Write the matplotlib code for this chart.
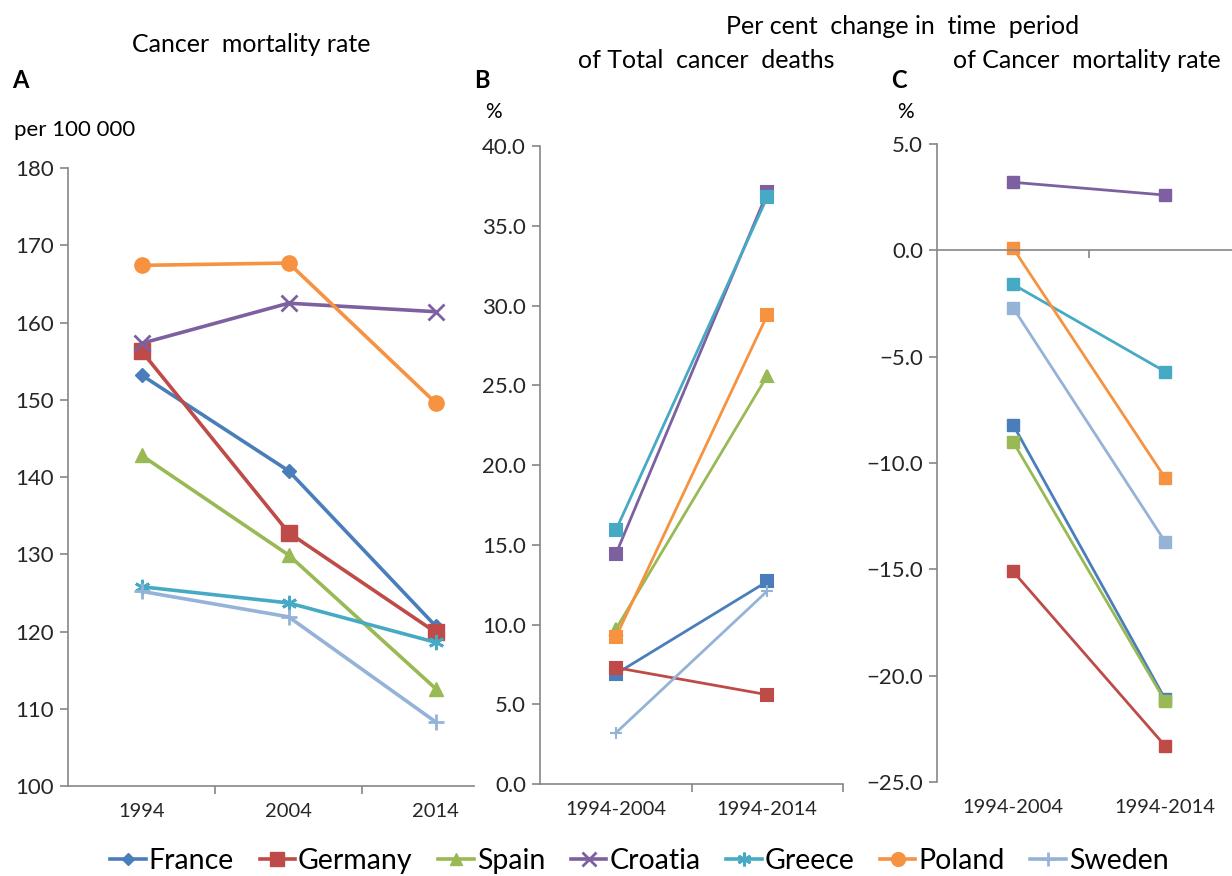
import matplotlib
matplotlib.use("Agg")
import matplotlib.pyplot as plt
from matplotlib.lines import Line2D

plt.rcParams['font.family'] = ['Lato', 'DejaVu Sans']

countries = ['France', 'Germany', 'Spain', 'Croatia', 'Greece', 'Poland', 'Sweden']
colors = ['#4A7EBB', '#BE4B48', '#98B954', '#7D60A0', '#46AAC5', '#F69240', '#95B3D7']
markers_a = ['D', 's', '^', 'x', (6, 2, 0), 'o', '+']
msize_a = [7, 11, 10, 11, 11, 11, 11]

years = ['1994', '2004', '2014']
periods = ['1994-2004', '1994-2014']

# Cancer mortality rate per 100 000
rate = {
    'France':  [153.2, 140.8, 120.7],
    'Germany': [156.3, 132.8, 119.9],
    'Spain':   [142.8, 129.9, 112.6],
    'Croatia': [157.3, 162.5, 161.4],
    'Greece':  [125.8, 123.7, 118.6],
    'Poland':  [167.4, 167.7, 149.6],
    'Sweden':  [125.2, 121.9, 108.3],
}

# per cent change of total cancer deaths
deaths_change = {
    'France':  [6.9, 12.7],
    'Germany': [7.3, 5.6],
    'Spain':   [9.7, 25.6],
    'Croatia': [14.4, 37.1],
    'Greece':  [15.9, 36.8],
    'Poland':  [9.2, 29.4],
    'Sweden':  [3.2, 12.1],
}

# per cent change of cancer mortality rate
rate_change = {
    'France':  [-8.2, -21.1],
    'Germany': [-15.1, -23.3],
    'Spain':   [-9.0, -21.2],
    'Croatia': [3.2, 2.6],
    'Greece':  [-1.6, -5.7],
    'Poland':  [0.1, -10.7],
    'Sweden':  [-2.7, -13.7],
}

axis_col = '#868686'
txt_col = '#262626'

fig = plt.figure(figsize=(12.32, 8.76), dpi=100)
axA = fig.add_axes([0.0552, 0.1027, 0.3295, 0.7055])
axB = fig.add_axes([0.4383, 0.1050, 0.2460, 0.7283])
axC = fig.add_axes([0.7606, 0.1073, 0.2394, 0.7283])


def style(ax):
    for s in ['top', 'right']:
        ax.spines[s].set_visible(False)
    for s in ['left', 'bottom']:
        ax.spines[s].set_color(axis_col)
        ax.spines[s].set_linewidth(1.2)
    ax.tick_params(axis='y', which='major', length=6, color=axis_col, width=1.2,
                   labelsize=16, labelcolor=txt_col, pad=4)
    ax.tick_params(axis='x', which='major', length=0, labelsize=14.5,
                   labelcolor=txt_col, pad=12)
    ax.tick_params(axis='x', which='minor', length=6, color=axis_col, width=1.2)


# Panel A
for i, c in enumerate(countries):
    axA.plot(range(3), rate[c], color=colors[i], lw=2.6, marker=markers_a[i],
             ms=msize_a[i], mew=2 if markers_a[i] in ['x', '+', (6, 2, 0)] else 1,
             mec=colors[i], mfc=colors[i])
axA.set_xlim(-0.5, 2.26)
axA.set_ylim(100, 180)
axA.set_yticks(range(100, 181, 10))
axA.set_xticks(range(3), years)
axA.set_xticks([0.5, 1.5], minor=True)
style(axA)

# Panel B
markers_b = ['s', 's', '^', 's', 's', 's', '+']
for i, c in enumerate(countries):
    axB.plot(range(2), deaths_change[c], color=colors[i], lw=2, marker=markers_b[i],
             ms=8, mew=1.5, mec=colors[i], mfc=colors[i])
axB.set_xlim(-0.5, 1.5)
axB.set_ylim(0, 40)
axB.set_yticks(range(0, 41, 5), [f'{v:.1f}' for v in range(0, 41, 5)])
axB.set_xticks(range(2), periods)
axB.set_xticks([0.5, 1.5], minor=True)
style(axB)

# Panel C
for i, c in enumerate(countries):
    axC.plot(range(2), rate_change[c], color=colors[i], lw=2, marker='s',
             ms=8, mec=colors[i], mfc=colors[i])
axC.set_xlim(-0.5, 1.44)
axC.set_ylim(-25, 5)
yc = list(range(-25, 6, 5))
axC.set_yticks(yc, [f'{v:.1f}'.replace('-', '\u2212') for v in yc])
style(axC)
axC.spines['bottom'].set_position(('data', 0))
axC.set_xticks([])
axC.set_xticks([0.5], minor=True)
sec = axC.secondary_xaxis('bottom')
sec.spines['bottom'].set_visible(False)
sec.set_xticks(range(2), periods)
sec.tick_params(axis='x', length=0, labelsize=14.5, labelcolor=txt_col, pad=12)

# titles and labels
fig.text(251 / 1232, 1 - 45 / 876, 'Cancer  mortality rate', ha='center', va='center', fontsize=18)
fig.text(903 / 1232, 1 - 27 / 876, 'Per cent  change in  time  period', ha='center', va='center', fontsize=18)
fig.text(706 / 1232, 1 - 60 / 876, 'of Total  cancer  deaths', ha='center', va='center', fontsize=18)
fig.text(1087 / 1232, 1 - 60 / 876, 'of Cancer  mortality rate', ha='center', va='center', fontsize=18)
fig.text(12 / 1232, 1 - 80 / 876, 'A', ha='left', va='center', fontsize=17, fontweight='bold')
fig.text(474 / 1232, 1 - 80 / 876, 'B', ha='left', va='center', fontsize=17, fontweight='bold')
fig.text(891 / 1232, 1 - 80 / 876, 'C', ha='left', va='center', fontsize=17, fontweight='bold')
fig.text(14 / 1232, 1 - 130 / 876, 'per 100 000', ha='left', va='center', fontsize=16)
fig.text(493 / 1232, 1 - 112 / 876, '%', ha='center', va='center', fontsize=15)
fig.text(905 / 1232, 1 - 112 / 876, '%', ha='center', va='center', fontsize=15)

handles = [Line2D([], [], color=colors[i], lw=2.6, marker=markers_a[i],
                  ms=msize_a[i] * 0.9, mew=2 if markers_a[i] in ['x', '+', (6, 2, 0)] else 1,
                  mec=colors[i], mfc=colors[i]) for i in range(len(countries))]
fig.legend(handles, countries, loc='center', bbox_to_anchor=(0.519, 0.017), ncol=7,
           frameon=False, fontsize=20.5, handlelength=1.25, handletextpad=0.1,
           columnspacing=0.9)

fig.savefig('out.png', dpi=100)
